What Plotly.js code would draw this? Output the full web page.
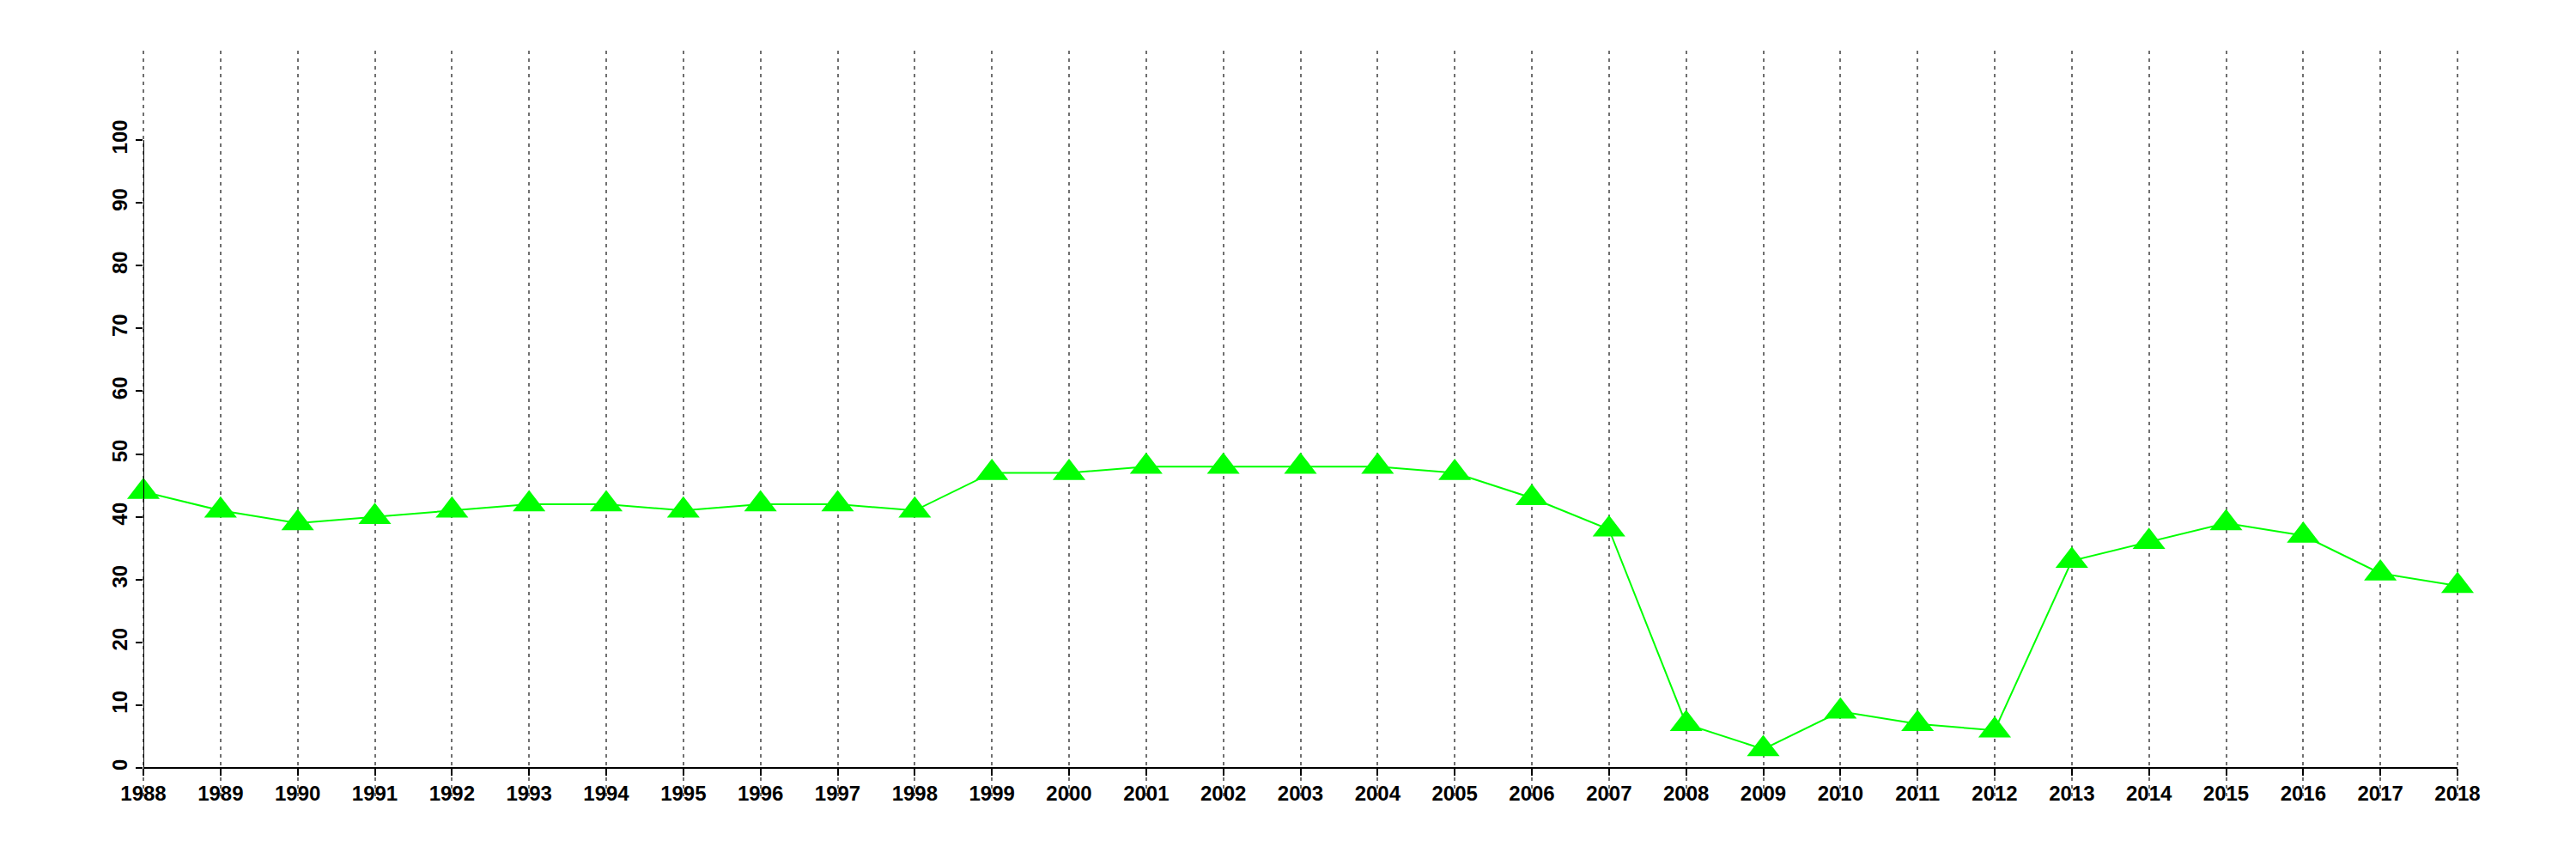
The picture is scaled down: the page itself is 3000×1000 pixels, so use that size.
<!DOCTYPE html>
<html>
<head>
<meta charset="utf-8">
<script src="https://cdn.plot.ly/plotly-3.0.1.min.js"></script>
<style>html,body{margin:0;padding:0;background:#fff;}#chart{width:3000px;height:1000px;}</style>
</head>
<body>
<div id="chart"></div>
<script>
const years = [1988,1989,1990,1991,1992,1993,1994,1995,1996,1997,1998,1999,2000,2001,2002,2003,2004,2005,2006,2007,2008,2009,2010,2011,2012,2013,2014,2015,2016,2017,2018];
const values = [44,41,39,40,41,42,42,41,42,42,41,47,47,48,48,48,48,47,43,38,7,3,9,7,6,33,36,39,37,31,29];
const yTicks = [0,10,20,30,40,50,60,70,80,90,100];

const yMin = -4.51, yMax = 114.23;
const xMin = years[0], xMax = years[years.length - 1];
const tickFont = {family: 'Liberation Sans, Arial, sans-serif', size: 24, color: '#000', weight: 'bold'};
const gridStyle = {color: '#707070', width: 2, dash: '4px,5px'};

const trace = {
  x: years,
  y: values,
  type: 'scatter',
  mode: 'lines+markers',
  line: {color: '#00ff00', width: 2},
  marker: {symbol: 'triangle-up', size: 33, color: '#00ff00'},
  cliponaxis: false,
  hoverinfo: 'x+y'
};

// edge gridlines (Plotly drops gridlines at the range ends); placed in paper coords from the data range
const shapes = [xMin, xMax].map(yr => {
  const fx = (yr - xMin) / (xMax - xMin);
  return {
    type: 'line', xref: 'paper', yref: 'paper',
    x0: fx, x1: fx, y0: 0, y1: 1,
    line: gridStyle,
    layer: 'below'
  };
});
shapes.push({
  type: 'line', xref: 'x', yref: 'y',
  x0: xMin, x1: xMin, y0: yTicks[0], y1: yTicks[yTicks.length - 1],
  line: {color: '#000', width: 2},
  layer: 'above'
});

const layout = {
  width: 3000,
  height: 1000,
  margin: {l: 167, r: 138, t: 59, b: 73},
  paper_bgcolor: '#fff',
  plot_bgcolor: '#fff',
  showlegend: false,
  xaxis: {
    range: [xMin, xMax],
    tickvals: years,
    ticktext: years.map(String),
    anchor: 'free',
    position: (0 - yMin) / (yMax - yMin),
    showline: true,
    linecolor: '#000',
    linewidth: 2,
    ticks: 'outside',
    ticklen: 8,
    tickwidth: 2,
    tickcolor: '#000',
    tickfont: tickFont,
    tickangle: 0,
    showgrid: true,
    gridcolor: gridStyle.color,
    gridwidth: gridStyle.width,
    griddash: gridStyle.dash,
    zeroline: false
  },
  yaxis: {
    range: [yMin, yMax],
    tickvals: yTicks,
    ticktext: yTicks.map(String),
    showline: false,
    ticks: 'outside',
    ticklen: 8,
    tickwidth: 2,
    tickcolor: '#000',
    tickfont: tickFont,
    tickangle: -90,
    showgrid: false,
    zeroline: false
  },
  shapes: shapes
};

Plotly.newPlot('chart', [trace], layout, {staticPlot: true, displayModeBar: false});
</script>
</body>
</html>
